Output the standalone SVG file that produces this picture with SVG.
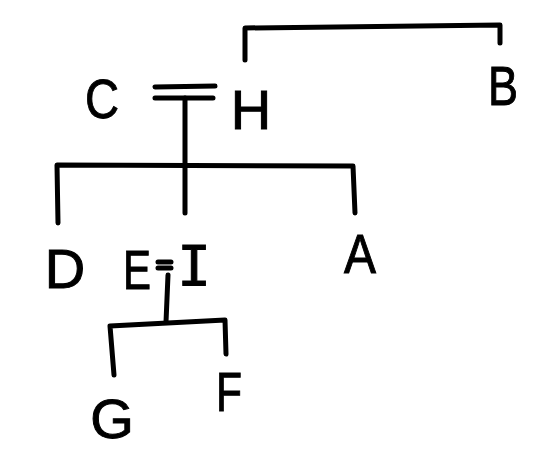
<svg xmlns="http://www.w3.org/2000/svg" width="546" height="466" viewBox="0 0 546 466">
<style>
.l{fill:none;stroke:#000;stroke-width:5;stroke-linecap:round;stroke-linejoin:round}
.t{font-family:"Liberation Sans",Arial,sans-serif;font-size:56px;fill:#000;stroke:#000;stroke-width:1;text-anchor:middle}
.m{font-family:"DejaVu Sans Mono",monospace}
</style>
<rect width="546" height="466" fill="#fff"/>
<g id="connectors">
<path class="l" d="M245,60 L245,28 L500,25 L500,43"/>
<path class="l" d="M155,87 L215,86 M155,98 L213,98"/>
<path class="l" d="M185,98 L185,213"/>
<path class="l" d="M58,223 L57,165 L353,166 L355,213"/>
<path class="l" d="M158,262 L171,262 M158,268 L171,268"/>
<path class="l" d="M168,275 L166,322"/>
<path class="l" d="M114,375 L110,326 L225,320 L226,354"/>
</g>
<g id="C"><text class="t" x="102" y="118" textLength="34" lengthAdjust="spacingAndGlyphs">C</text></g>
<g id="H"><text class="t" x="251" y="129">H</text></g>
<g id="B"><text class="t" x="503" y="105" textLength="30" lengthAdjust="spacingAndGlyphs">B</text></g>
<g id="D"><text class="t" x="65" y="288">D</text></g>
<g id="E"><text class="t" x="137" y="289" textLength="28" lengthAdjust="spacingAndGlyphs">E</text></g>
<g id="I"><text class="t m" x="194" y="285">I</text></g>
<g id="A"><text class="t" x="360" y="273" textLength="32" lengthAdjust="spacingAndGlyphs">A</text></g>
<g id="G"><text class="t" x="112" y="438">G</text></g>
<g id="F"><text class="t" x="229" y="411" textLength="26" lengthAdjust="spacingAndGlyphs">F</text></g>
</svg>
